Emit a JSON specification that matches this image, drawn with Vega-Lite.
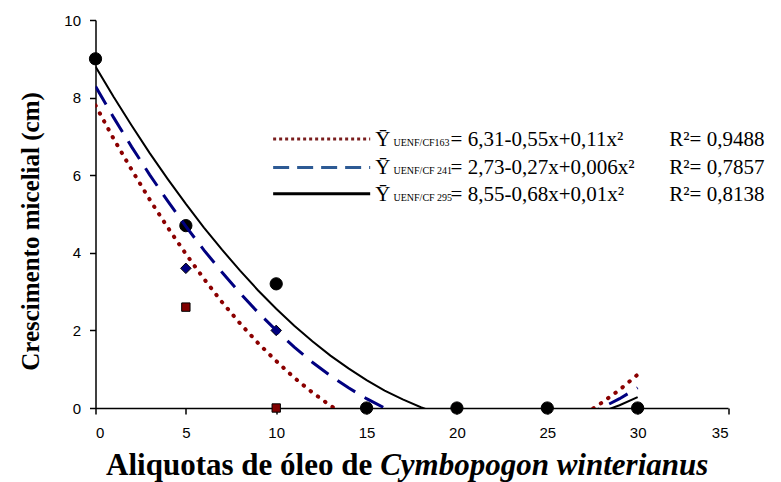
{
  "$schema": "https://vega.github.io/schema/vega-lite/v6.json",
  "width": 632.5,
  "height": 388,
  "autosize": {"type": "none"},
  "padding": {"left": 95.5, "top": 20, "right": 53, "bottom": 74},
  "background": "white",
  "config": {
    "view": {"stroke": null},
    "axis": {
      "grid": false,
      "domainColor": "black",
      "domainWidth": 1.5,
      "tickColor": "black",
      "tickWidth": 1.5,
      "tickSize": 6,
      "labelColor": "black",
      "labelFont": "Liberation Sans",
      "labelFontSize": 15
    }
  },
  "datasets": {
    "points": [
      {"s": "163", "x": 0, "y": 9}, {"s": "163", "x": 5, "y": 2.6}, {"s": "163", "x": 10, "y": 0}, {"s": "163", "x": 15, "y": 0}, {"s": "163", "x": 20, "y": 0}, {"s": "163", "x": 25, "y": 0}, {"s": "163", "x": 30, "y": 0},
      {"s": "241", "x": 0, "y": 9}, {"s": "241", "x": 5, "y": 3.6}, {"s": "241", "x": 10, "y": 2.0}, {"s": "241", "x": 15, "y": 0}, {"s": "241", "x": 20, "y": 0}, {"s": "241", "x": 25, "y": 0}, {"s": "241", "x": 30, "y": 0},
      {"s": "295", "x": 0, "y": 9}, {"s": "295", "x": 5, "y": 4.7}, {"s": "295", "x": 10, "y": 3.2}, {"s": "295", "x": 15, "y": 0}, {"s": "295", "x": 20, "y": 0}, {"s": "295", "x": 25, "y": 0}, {"s": "295", "x": 30, "y": 0}
    ],
    "curves": [
      {"s": "163", "x": 0, "y": 7.80}, {"s": "163", "x": 1, "y": 6.94}, {"s": "163", "x": 2, "y": 6.14}, {"s": "163", "x": 3, "y": 5.37}, {"s": "163", "x": 4, "y": 4.65}, {"s": "163", "x": 5, "y": 3.97}, {"s": "163", "x": 6, "y": 3.33}, {"s": "163", "x": 7, "y": 2.73}, {"s": "163", "x": 8, "y": 2.18}, {"s": "163", "x": 9, "y": 1.67}, {"s": "163", "x": 10, "y": 1.21}, {"s": "163", "x": 11, "y": 0.78}, {"s": "163", "x": 12, "y": 0.40}, {"s": "163", "x": 13, "y": 0.06}, {"s": "163", "x": 14, "y": -0.23}, {"s": "163", "x": 15, "y": -0.49}, {"s": "163", "x": 16, "y": -0.70}, {"s": "163", "x": 17, "y": -0.86}, {"s": "163", "x": 18, "y": -0.99}, {"s": "163", "x": 19, "y": -1.07}, {"s": "163", "x": 20, "y": -1.11}, {"s": "163", "x": 21, "y": -1.10}, {"s": "163", "x": 22, "y": -1.05}, {"s": "163", "x": 23, "y": -0.96}, {"s": "163", "x": 24, "y": -0.83}, {"s": "163", "x": 25, "y": -0.66}, {"s": "163", "x": 26, "y": -0.44}, {"s": "163", "x": 27, "y": -0.18}, {"s": "163", "x": 28, "y": 0.13}, {"s": "163", "x": 29, "y": 0.47}, {"s": "163", "x": 30, "y": 0.86},
      {"s": "241", "x": 0, "y": 8.29}, {"s": "241", "x": 1, "y": 7.49}, {"s": "241", "x": 2, "y": 6.73}, {"s": "241", "x": 3, "y": 6.01}, {"s": "241", "x": 4, "y": 5.33}, {"s": "241", "x": 5, "y": 4.68}, {"s": "241", "x": 6, "y": 4.07}, {"s": "241", "x": 7, "y": 3.50}, {"s": "241", "x": 8, "y": 2.96}, {"s": "241", "x": 9, "y": 2.46}, {"s": "241", "x": 10, "y": 2.00}, {"s": "241", "x": 11, "y": 1.57}, {"s": "241", "x": 12, "y": 1.18}, {"s": "241", "x": 13, "y": 0.83}, {"s": "241", "x": 14, "y": 0.52}, {"s": "241", "x": 15, "y": 0.24}, {"s": "241", "x": 16, "y": 0.0}, {"s": "241", "x": 17, "y": -0.20}, {"s": "241", "x": 18, "y": -0.37}, {"s": "241", "x": 19, "y": -0.50}, {"s": "241", "x": 20, "y": -0.59}, {"s": "241", "x": 21, "y": -0.65}, {"s": "241", "x": 22, "y": -0.67}, {"s": "241", "x": 23, "y": -0.65}, {"s": "241", "x": 24, "y": -0.59}, {"s": "241", "x": 25, "y": -0.50}, {"s": "241", "x": 26, "y": -0.37}, {"s": "241", "x": 27, "y": -0.20}, {"s": "241", "x": 28, "y": 0.0}, {"s": "241", "x": 29, "y": 0.24}, {"s": "241", "x": 30, "y": 0.52},
      {"s": "295", "x": 0, "y": 8.80}, {"s": "295", "x": 1, "y": 8.02}, {"s": "295", "x": 2, "y": 7.28}, {"s": "295", "x": 3, "y": 6.57}, {"s": "295", "x": 4, "y": 5.90}, {"s": "295", "x": 5, "y": 5.26}, {"s": "295", "x": 6, "y": 4.65}, {"s": "295", "x": 7, "y": 4.08}, {"s": "295", "x": 8, "y": 3.54}, {"s": "295", "x": 9, "y": 3.03}, {"s": "295", "x": 10, "y": 2.56}, {"s": "295", "x": 11, "y": 2.12}, {"s": "295", "x": 12, "y": 1.72}, {"s": "295", "x": 13, "y": 1.35}, {"s": "295", "x": 14, "y": 1.02}, {"s": "295", "x": 15, "y": 0.72}, {"s": "295", "x": 16, "y": 0.45}, {"s": "295", "x": 17, "y": 0.22}, {"s": "295", "x": 18, "y": 0.02}, {"s": "295", "x": 19, "y": -0.15}, {"s": "295", "x": 20, "y": -0.28}, {"s": "295", "x": 21, "y": -0.37}, {"s": "295", "x": 22, "y": -0.44}, {"s": "295", "x": 23, "y": -0.47}, {"s": "295", "x": 24, "y": -0.46}, {"s": "295", "x": 25, "y": -0.42}, {"s": "295", "x": 26, "y": -0.35}, {"s": "295", "x": 27, "y": -0.24}, {"s": "295", "x": 28, "y": -0.10}, {"s": "295", "x": 29, "y": 0.07}, {"s": "295", "x": 30, "y": 0.28}
    ],
    "legendLines": [
      {"s": "163", "x": 9.83, "y": 6.93}, {"s": "163", "x": 15.2, "y": 6.93},
      {"s": "241", "x": 9.83, "y": 6.20}, {"s": "241", "x": 15.2, "y": 6.20},
      {"s": "295", "x": 9.83, "y": 5.52}, {"s": "295", "x": 15.2, "y": 5.52}
    ],
    "legendMain": [
      {"t": "Ȳ", "x": 15.48, "y": 6.76}, {"t": "= 6,31-0,55x+0,11x²", "x": 19.65, "y": 6.76}, {"t": "R²= 0,9488", "x": 31.75, "y": 6.76},
      {"t": "Ȳ", "x": 15.48, "y": 6.03}, {"t": "= 2,73-0,27x+0,006x²", "x": 19.65, "y": 6.03}, {"t": "R²= 0,7857", "x": 31.75, "y": 6.03},
      {"t": "Ȳ", "x": 15.48, "y": 5.34}, {"t": "= 8,55-0,68x+0,01x²", "x": 19.65, "y": 5.34}, {"t": "R²= 0,8138", "x": 31.75, "y": 5.34}
    ],
    "legendSub": [
      {"t": "UENF/CF163", "x": 16.49, "y": 6.76},
      {"t": "UENF/CF 241", "x": 16.49, "y": 6.03},
      {"t": "UENF/CF 295", "x": 16.49, "y": 5.34}
    ],
    "titleA": [{"t": "Aliquotas de óleo de", "x": 15.31, "y": -1.73}],
    "titleB": [{"t": "Cymbopogon winterianus", "x": 15.75, "y": -1.73}]
  },
  "encoding": {
    "x": {"field": "x", "type": "quantitative", "scale": {"domain": [0, 35], "nice": false},
          "axis": {"values": [0, 5, 10, 15, 20, 25, 30, 35], "title": null, "labelPadding": 11}},
    "y": {"field": "y", "type": "quantitative", "scale": {"domain": [0, 10], "nice": false},
          "axis": {"values": [0, 2, 4, 6, 8, 10], "labelPadding": 9, "title": "Crescimento micelial (cm)",
                   "titleFont": "'Liberation Serif', serif", "titleFontSize": 25, "titleFontWeight": "bold", "titleColor": "black",
                   "titleX": -65, "titleY": 211, "titleAngle": -90, "titleAlign": "center", "titleBaseline": "middle"}}
  },
  "layer": [
    {
      "data": {"name": "points"},
      "mark": {"type": "point", "filled": true, "stroke": "black", "strokeWidth": 1, "opacity": 1},
      "encoding": {
        "shape": {"field": "s", "type": "nominal", "scale": {"domain": ["163", "241", "295"], "range": ["square", "diamond", "circle"]}, "legend": null},
        "fill": {"field": "s", "type": "nominal", "scale": {"domain": ["163", "241", "295"], "range": ["#800000", "#000080", "#000000"]}, "legend": null},
        "size": {"field": "s", "type": "nominal", "scale": {"domain": ["163", "241", "295"], "range": [70, 150, 85]}, "legend": null}
      }
    },
    {
      "data": {"name": "curves"},
      "transform": [{"filter": "datum.s === '163'"}],
      "mark": {"type": "line", "clip": true, "color": "#8b0000", "strokeWidth": 4, "strokeCap": "round", "strokeDash": [0.5, 8.5]}
    },
    {
      "data": {"name": "curves"},
      "transform": [{"filter": "datum.s === '241'"}],
      "mark": {"type": "line", "clip": true, "color": "#000080", "strokeWidth": 3, "strokeDash": [21, 11]}
    },
    {
      "data": {"name": "curves"},
      "transform": [{"filter": "datum.s === '295'"}],
      "mark": {"type": "line", "clip": true, "color": "#000000", "strokeWidth": 2}
    },
    {
      "data": {"name": "legendLines"},
      "transform": [{"filter": "datum.s === '163'"}],
      "mark": {"type": "line", "color": "#7a1e1e", "strokeWidth": 3, "strokeDash": [3, 3]}
    },
    {
      "data": {"name": "legendLines"},
      "transform": [{"filter": "datum.s === '241'"}],
      "mark": {"type": "line", "color": "#2d5a94", "strokeWidth": 3, "strokeDash": [16, 8]}
    },
    {
      "data": {"name": "legendLines"},
      "transform": [{"filter": "datum.s === '295'"}],
      "mark": {"type": "line", "color": "#000000", "strokeWidth": 3}
    },
    {
      "data": {"name": "legendMain"},
      "mark": {"type": "text", "align": "left", "baseline": "alphabetic", "font": "'Liberation Serif', serif", "fontSize": 21, "color": "black"},
      "encoding": {"text": {"field": "t"}}
    },
    {
      "data": {"name": "legendSub"},
      "mark": {"type": "text", "align": "left", "baseline": "alphabetic", "font": "'Liberation Serif', serif", "fontSize": 10, "color": "black"},
      "encoding": {"text": {"field": "t"}}
    },
    {
      "data": {"name": "titleA"},
      "mark": {"type": "text", "align": "right", "baseline": "alphabetic", "font": "'Liberation Serif', serif", "fontSize": 31, "fontWeight": "bold", "color": "black"},
      "encoding": {"text": {"field": "t"}}
    },
    {
      "data": {"name": "titleB"},
      "mark": {"type": "text", "align": "left", "baseline": "alphabetic", "font": "'Liberation Serif', serif", "fontSize": 31, "fontWeight": "bold", "fontStyle": "italic", "color": "black"},
      "encoding": {"text": {"field": "t"}}
    }
  ]
}
